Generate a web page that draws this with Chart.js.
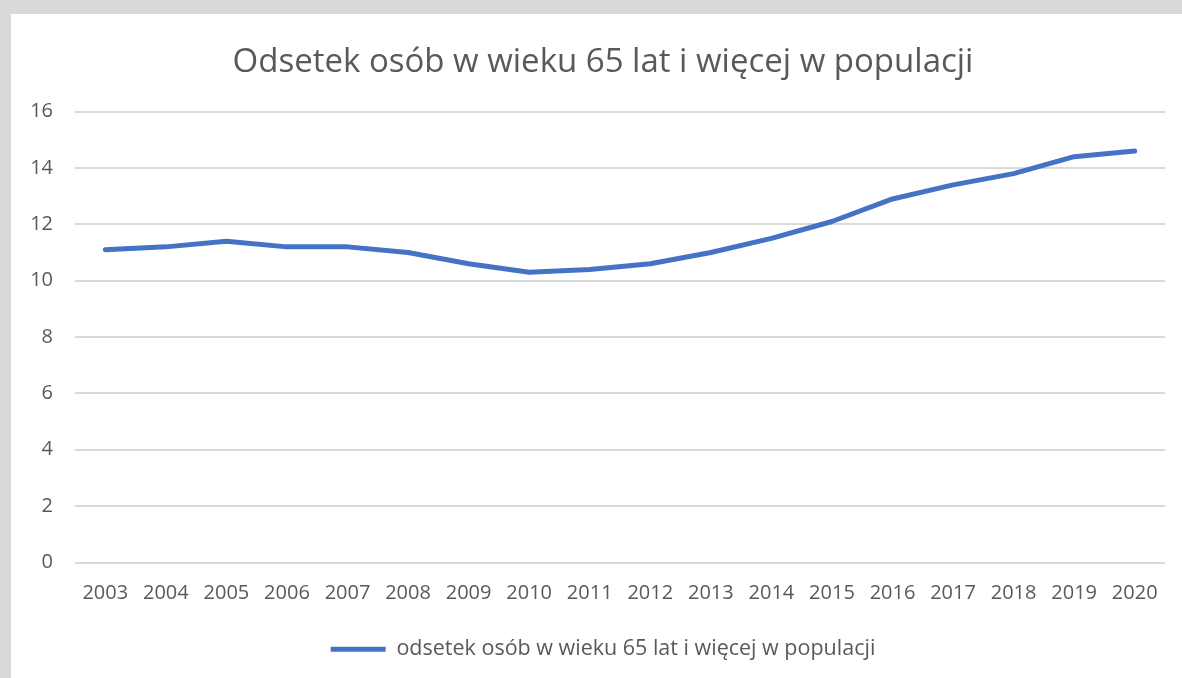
<!DOCTYPE html>
<html lang="pl">
<head>
<meta charset="utf-8">
<script src="https://cdn.jsdelivr.net/npm/chart.js@4.4.1/dist/chart.umd.min.js"></script>
<style>
  html, body { margin: 0; padding: 0; background: #d9d9d9; }
  body { width: 1182px; height: 678px; position: relative; overflow: hidden; }
  #wrap { position: absolute; left: 11px; top: 14px; width: 1171px; height: 664px; background: #ffffff; }
  canvas { display: block; }
</style>
</head>
<body>
<div id="wrap"><canvas id="chart" width="1171" height="664"></canvas></div>
<script>
// Lata i odsetek osób w wieku 65+ (%)
const years = ['2003','2004','2005','2006','2007','2008','2009','2010','2011','2012',
               '2013','2014','2015','2016','2017','2018','2019','2020'];
const share65 = [11.1, 11.2, 11.4, 11.2, 11.2, 11.0, 10.6, 10.3, 10.4, 10.6,
                 11.0, 11.5, 12.1, 12.9, 13.4, 13.8, 14.4, 14.6];
const yTicks = [0, 2, 4, 6, 8, 10, 12, 14, 16];

const seriesName = 'odsetek osób w wieku 65 lat i więcej w populacji';
const chartTitle = 'Odsetek osób w wieku 65 lat i więcej w populacji';

const textGrey = '#595959';
const blue = '#4472c4';
const FONT = '"Open Sans", "Noto Sans", sans-serif';

// Centre the title and legend a little further right, over the plot rather than the whole canvas
const shiftHeaderFooter = {
  id: 'shiftHeaderFooter',
  afterLayout(chart) {
    if (chart.titleBlock) chart.titleBlock.left += 30;
    if (chart.legend) chart.legend.left += 30;
  }
};

new Chart(document.getElementById('chart'), {
  type: 'line',
  data: {
    labels: years,
    datasets: [{
      label: seriesName,
      data: share65,
      borderColor: blue,
      backgroundColor: blue,
      borderWidth: 5,
      borderCapStyle: 'round',
      borderJoinStyle: 'round',
      pointRadius: 0,
      pointHoverRadius: 0,
      tension: 0,
      fill: false
    }]
  },
  plugins: [shiftHeaderFooter],
  options: {
    responsive: false,
    animation: false,
    devicePixelRatio: 1,
    layout: { padding: { left: 0, right: 17, top: 0, bottom: 8 } },
    plugins: {
      title: {
        display: true,
        text: chartTitle,
        color: textGrey,
        font: { family: FONT, size: 33, weight: 'normal' },
        padding: { top: 29, bottom: 29 }
      },
      legend: {
        display: true,
        position: 'bottom',
        labels: {
          color: textGrey,
          font: { family: FONT, size: 21.5 },
          usePointStyle: true,
          pointStyle: 'line',
          pointStyleWidth: 55,
          boxHeight: 5,
          padding: 10
        }
      },
      tooltip: { enabled: false }
    },
    scales: {
      x: {
        offset: true,
        grid: { display: false, drawTicks: false },
        border: { display: false },
        ticks: {
          color: textGrey,
          font: { family: FONT, size: 20 },
          padding: 19,
          maxRotation: 0,
          autoSkip: false
        },
        afterFit(scale) { scale.height = 66; }
      },
      y: {
        min: 0,
        max: 16,
        afterBuildTicks(scale) { scale.ticks = yTicks.map(v => ({ value: v })); },
        grid: { color: '#d9d9d9', lineWidth: 2, drawTicks: false },
        border: { display: false },
        ticks: {
          color: textGrey,
          font: { family: FONT, size: 20 },
          padding: 22
        },
        afterFit(scale) { scale.width = 64; }
      }
    }
  }
});
</script>
</body>
</html>
